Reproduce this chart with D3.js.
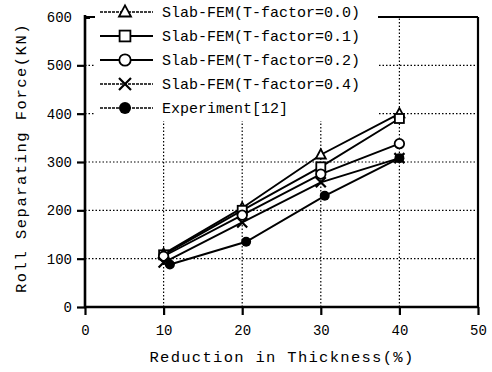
<!DOCTYPE html>
<html><head><meta charset="utf-8">
<script src="https://cdn.jsdelivr.net/npm/d3@7"></script>
<style>body{margin:0;background:#fff}svg{display:block}</style>
</head><body><svg id="c" width="492" height="372"></svg>
<script>
const xTicks = [0, 10, 20, 30, 40, 50];
const yTicks = [0, 100, 200, 300, 400, 500, 600];
const simX = [10, 20, 30, 40];
const t00 = [110, 205, 315, 400];
const t01 = [108, 200, 290, 390];
const t02 = [105, 190, 275, 338];
const t04 = [92, 175, 258, 308];
const expX = [10.8, 20.5, 30.5, 40];
const expY = [88, 135, 230, 308];
const labels = ["Slab-FEM(T-factor=0.0)", "Slab-FEM(T-factor=0.1)", "Slab-FEM(T-factor=0.2)", "Slab-FEM(T-factor=0.4)", "Experiment[12]"];
const markers = ["triangle", "square", "circle", "cross", "dot"];

const series = [
  {x: simX, y: t00}, {x: simX, y: t01}, {x: simX, y: t02}, {x: simX, y: t04}, {x: expX, y: expY}
].map((s, i) => ({pts: s.x.map((v, j) => [v, s.y[j]]), label: labels[i], marker: markers[i]}));

const svg = d3.select("#c");
const x = d3.scaleLinear().domain([0, 50]).range([85, 478]);
const y = d3.scaleLinear().domain([0, 600]).range([307, 17]);
const font = "'Liberation Mono', 'Courier New', monospace";

// grid
const g = svg.append("g");
g.selectAll(".hg").data(yTicks.slice(1, 6)).join("line")
  .attr("x1", x(0)).attr("x2", x(50)).attr("y1", d => y(d)).attr("y2", d => y(d))
  .attr("stroke", "#000").attr("stroke-width", 1.2).attr("stroke-dasharray", "1.5,2");
g.selectAll(".vg").data(xTicks.slice(1, 5)).join("line")
  .attr("x1", d => x(d)).attr("x2", d => x(d)).attr("y1", y(0)).attr("y2", y(600))
  .attr("stroke", "#000").attr("stroke-width", 1.2).attr("stroke-dasharray", "1.5,2");

// frame
svg.append("line").attr("x1", x(50)).attr("x2", x(50)).attr("y1", y(0)).attr("y2", y(600))
  .attr("stroke", "#000").attr("stroke-width", 2.2);
svg.append("line").attr("x1", x(0)).attr("x2", x(50)).attr("y1", y(600)).attr("y2", y(600))
  .attr("stroke", "#000").attr("stroke-width", 2.2);

// axes
const xAxis = svg.append("g").attr("transform", `translate(0,${y(0)})`)
  .call(d3.axisBottom(x).tickValues(xTicks).tickSize(8).tickPadding(10).tickFormat(d3.format("d")));
const yAxis = svg.append("g").attr("transform", `translate(${x(0)},0)`)
  .call(d3.axisLeft(y).tickValues(yTicks).tickSize(8).tickPadding(5).tickFormat(d3.format("d")));
[xAxis, yAxis].forEach(a => {
  a.selectAll(".tick line").attr("stroke-width", 2.2);
  a.selectAll("text").attr("font-family", font).attr("font-size", 14).attr("fill", "#000");
});
xAxis.select(".domain").remove();
yAxis.select(".domain").remove();
svg.append("line").attr("x1", x(0) - 1).attr("x2", x(50) + 1).attr("y1", y(0)).attr("y2", y(0))
  .attr("stroke", "#000").attr("stroke-width", 2.6);
svg.append("line").attr("x1", x(0)).attr("x2", x(0)).attr("y1", y(0)).attr("y2", y(600) - 2)
  .attr("stroke", "#000").attr("stroke-width", 2.6);
yAxis.selectAll(".tick line").filter(d => d === 600).attr("x2", 5).attr("stroke-width", 3);

// axis titles
svg.append("text").attr("x", 282).attr("y", 362).attr("text-anchor", "middle")
  .attr("font-family", font).attr("font-size", 15.5).attr("letter-spacing", 1.3)
  .text("Reduction in Thickness(%)");
svg.append("text").attr("transform", "translate(26,158) rotate(-90)").attr("text-anchor", "middle")
  .attr("font-family", font).attr("font-size", 15.5).attr("letter-spacing", 1.5)
  .text("Roll Separating Force(KN)");

function drawMarker(sel, type, size) {
  const r = size / 2;
  if (type === "triangle") {
    sel.append("path").attr("d", `M0,${-r * 1.1}L${r},${r * 0.75}L${-r},${r * 0.75}Z`)
      .attr("fill", "#fff").attr("stroke", "#000").attr("stroke-width", 1.8);
  } else if (type === "square") {
    sel.append("rect").attr("x", -r * 0.9).attr("y", -r * 0.9).attr("width", r * 1.8).attr("height", r * 1.8)
      .attr("fill", "#fff").attr("stroke", "#000").attr("stroke-width", 1.8);
  } else if (type === "circle") {
    sel.append("circle").attr("r", r * 0.95).attr("fill", "#fff").attr("stroke", "#000").attr("stroke-width", 1.8);
  } else if (type === "cross") {
    sel.append("path").attr("d", `M${-r},${-r}L${r},${r}M${-r},${r}L${r},${-r}`)
      .attr("stroke", "#000").attr("stroke-width", 2.2);
  } else {
    sel.append("circle").attr("r", r).attr("fill", "#000");
  }
}

// lines and markers
const line = d3.line().x(d => x(d[0])).y(d => y(d[1]));
series.forEach(s => {
  svg.append("path").attr("d", line(s.pts)).attr("fill", "none").attr("stroke", "#000").attr("stroke-width", 1.9);
});
series.forEach(s => {
  s.pts.forEach(p => {
    const m = svg.append("g").attr("transform", `translate(${x(p[0])},${y(p[1])})`);
    drawMarker(m, s.marker, 10);
  });
});

// legend
const leg = svg.append("g");
leg.append("rect").attr("x", 95).attr("y", 0).attr("width", 283).attr("height", 121).attr("fill", "#fff");
const rowY = d3.scalePoint().domain(labels).range([12, 108]);
labels.forEach((lab, i) => {
  const yy = rowY(lab);
  const dashed = (i === 0 || i === 3 || i === 4);
  leg.append("line").attr("x1", 100).attr("x2", 153).attr("y1", yy).attr("y2", yy)
    .attr("stroke", "#000").attr("stroke-width", dashed ? 1.3 : 2)
    .attr("stroke-dasharray", dashed ? "3,1" : null);
  const m = leg.append("g").attr("transform", `translate(125,${yy})`);
  drawMarker(m, markers[i], 12);
  leg.append("text").attr("x", 162).attr("y", yy).attr("dy", "0.35em")
    .attr("font-family", font).attr("font-size", 15).attr("fill", "#000").text(lab);
});
</script></body></html>
